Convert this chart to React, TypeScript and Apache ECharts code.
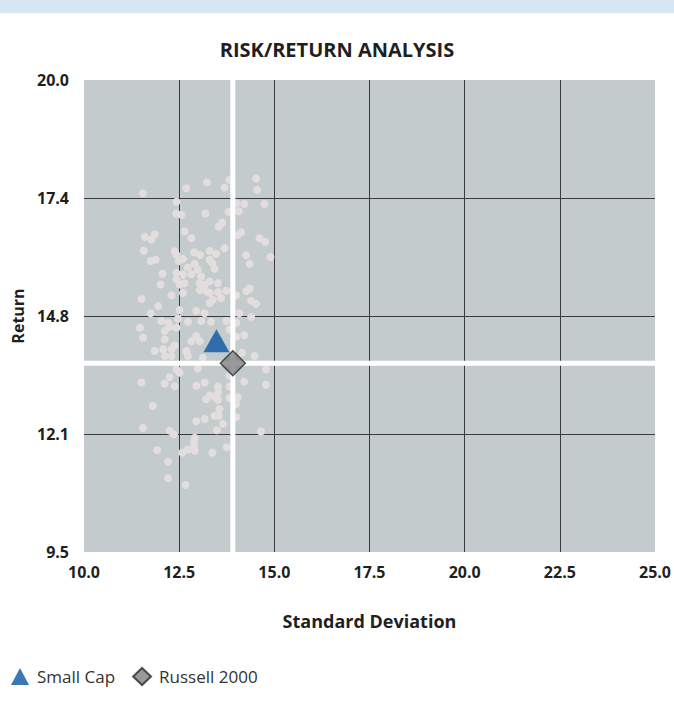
import React, { useEffect, useRef } from "react";
import * as echarts from "echarts";

const titleText = "RISK/RETURN ANALYSIS";
const xAxisName = "Standard Deviation";
const yAxisName = "Return";

const xTicks = [10, 12.5, 15, 17.5, 20, 22.5, 25];
const yTicks = [9.5, 12.125, 14.75, 17.375, 20.0];

const smallCap = [[13.48, 14.2]];
const russell2000 = [[13.91, 13.7]];

const peerFunds = [
  [11.55, 17.48], [12.69, 17.59], [13.23, 17.72], [13.69, 17.61], [13.82, 17.78],
  [14.52, 17.81], [14.55, 17.55], [12.43, 17.29], [14.0, 17.26], [14.21, 17.24],
  [14.74, 17.24], [12.43, 17.03], [12.56, 17.0], [13.19, 17.03], [13.8, 17.07],
  [14.07, 17.08], [13.63, 16.83], [13.54, 16.74], [12.64, 16.63], [14.13, 16.61],
  [14.04, 16.55], [11.6, 16.51], [11.86, 16.57], [12.82, 16.48], [14.61, 16.48],
  [11.77, 16.45], [14.76, 16.4], [11.57, 16.2], [12.38, 16.19], [12.43, 16.11],
  [12.89, 16.17], [13.05, 16.11], [13.3, 16.2], [13.47, 16.13], [13.69, 16.26],
  [14.26, 16.1], [11.75, 15.97], [11.88, 16.0], [12.49, 15.97], [12.6, 16.02],
  [13.3, 16.0], [13.37, 15.93], [12.91, 15.91], [14.35, 15.91], [14.9, 16.06],
  [12.73, 15.83], [12.99, 15.78], [13.43, 15.8], [12.06, 15.69], [12.43, 15.71],
  [12.6, 15.67], [12.82, 15.68], [13.08, 15.63], [12.43, 15.56], [12.01, 15.45],
  [12.51, 15.45], [12.64, 15.48], [13.04, 15.48], [13.17, 15.45], [13.3, 15.52],
  [13.52, 15.48], [13.04, 15.33], [13.21, 15.3], [12.6, 15.26], [13.3, 15.26],
  [13.52, 15.28], [13.74, 15.31], [14.26, 15.3], [14.35, 15.36], [12.3, 15.21],
  [11.51, 15.13], [13.38, 15.11], [13.6, 15.15], [13.3, 15.04], [14.0, 15.21],
  [14.39, 15.09], [14.52, 15.02], [11.95, 14.97], [11.75, 14.81], [12.51, 14.88],
  [12.95, 14.86], [13.17, 14.81], [14.08, 14.81], [14.39, 14.73], [12.03, 14.64],
  [12.21, 14.6], [12.25, 14.51], [12.47, 14.69], [12.73, 14.62], [13.08, 14.64],
  [13.34, 14.62], [13.74, 14.64], [14.0, 14.6], [11.47, 14.49], [12.12, 14.42],
  [12.43, 14.49], [13.82, 14.45], [11.55, 14.27], [12.12, 14.23], [12.82, 14.19],
  [12.95, 14.3], [13.04, 14.19], [14.0, 14.29], [14.21, 14.32], [11.86, 13.97],
  [12.08, 14.01], [12.3, 14.01], [12.38, 14.1], [12.69, 13.97], [13.12, 13.82],
  [12.12, 13.86], [12.3, 13.86], [12.73, 13.86], [14.15, 13.93], [14.48, 13.86],
  [12.43, 13.56], [12.51, 13.49], [14.78, 13.56], [12.99, 13.58], [13.95, 13.56],
  [14.21, 13.29], [11.51, 13.27], [12.38, 13.19], [12.12, 13.25], [12.95, 13.2],
  [13.17, 13.27], [13.52, 13.18], [12.25, 13.39], [13.52, 13.05], [13.82, 13.42],
  [13.82, 13.18], [14.78, 13.22], [13.21, 12.9], [13.3, 12.98], [13.43, 12.95],
  [13.82, 12.93], [14.04, 12.94], [11.81, 12.75], [13.52, 12.88], [14.0, 12.79],
  [13.56, 12.68], [13.43, 12.53], [13.54, 12.53], [13.17, 12.46], [12.95, 12.41],
  [14.0, 12.5], [13.65, 12.35], [11.55, 12.26], [12.25, 12.2], [12.36, 12.12],
  [13.49, 12.21], [14.65, 12.18], [12.91, 12.04], [11.92, 11.77], [12.21, 11.51],
  [12.58, 11.71], [12.73, 11.78], [12.89, 11.86], [12.91, 11.75], [12.89, 11.95],
  [13.37, 11.71], [13.75, 11.83], [12.21, 11.14], [12.67, 10.99],
];

const FONT = "'Open Sans', 'Noto Sans', sans-serif";

export default function App() {
  const ref = useRef<HTMLDivElement>(null);

  useEffect(() => {
    document.body.style.margin = "0";
    if (!ref.current) return;
    const chart = echarts.init(ref.current, null, { renderer: "svg" });
    const xMin = xTicks[0];
    const xMax = xTicks[xTicks.length - 1];
    const yMin = yTicks[0];
    const yMax = yTicks[yTicks.length - 1];

    chart.setOption({
      animation: false,
      backgroundColor: "#ffffff",
      graphic: [
        {
          type: "rect",
          left: 0,
          top: 0,
          shape: { width: 674, height: 13 },
          style: { fill: "#d8e5f3" },
          silent: true,
        },
      ],
      title: {
        text: titleText,
        left: "center",
        top: 34,
        textStyle: {
          fontFamily: FONT,
          fontWeight: "bold",
          fontSize: 20,
          color: "#1f1f1f",
        },
      },
      legend: {
        left: 11,
        top: 667,
        padding: 0,
        itemGap: 17,
        itemWidth: 18,
        itemHeight: 17,
        data: ["Small Cap", "Russell 2000"],
        textStyle: {
          fontFamily: FONT,
          fontSize: 17,
          color: "#333",
          padding: [0, 0, 0, 3],
        },
      },
      grid: {
        left: 84,
        right: 17,
        top: 80,
        bottom: 150,
        show: true,
        backgroundColor: "#c4cbcd",
        borderWidth: 0,
      },
      xAxis: {
        type: "value",
        min: xMin,
        max: xMax,
        interval: 2.5,
        name: xAxisName,
        nameLocation: "middle",
        nameGap: 60,
        nameTextStyle: {
          fontFamily: FONT,
          fontWeight: "bold",
          fontSize: 18,
          color: "#1f1f1f",
        },
        axisLine: { show: false },
        axisTick: { show: false },
        axisLabel: {
          margin: 12,
          fontFamily: FONT,
          fontWeight: "bold",
          fontSize: 16,
          color: "#1f1f1f",
          formatter: (v: number) => v.toFixed(1),
        },
        splitLine: {
          show: true,
          showMinLine: false,
          showMaxLine: false,
          lineStyle: { color: "#3a3a3a", width: 1 },
        },
      },
      yAxis: {
        type: "value",
        min: yMin,
        max: yMax,
        name: yAxisName,
        nameLocation: "middle",
        nameGap: 56,
        nameRotate: 90,
        nameTextStyle: {
          fontFamily: FONT,
          fontWeight: "bold",
          fontSize: 16,
          color: "#1f1f1f",
        },
        axisLine: { show: false },
        axisTick: { show: false, customValues: yTicks },
        axisLabel: {
          margin: 15,
          fontFamily: FONT,
          fontWeight: "bold",
          fontSize: 16,
          color: "#1f1f1f",
          customValues: yTicks,
          formatter: (v: number) => v.toFixed(1),
        },
        splitLine: { show: false },
      },
      series: [
        {
          name: "gridY",
          type: "custom",
          z: 1,
          silent: true,
          data: yTicks.slice(1, -1).map((v) => [xMin, v]),
          encode: { x: 0, y: 1 },
          renderItem: (params: any, api: any) => {
            const cs = params.coordSys;
            const y = Math.round(api.coord([api.value(0), api.value(1)])[1]) + 0.5;
            return {
              type: "line",
              shape: { x1: cs.x, y1: y, x2: cs.x + cs.width, y2: y },
              style: { stroke: "#3a3a3a", lineWidth: 1 },
            };
          },
        },
        {
          name: "Peers",
          type: "scatter",
          z: 2,
          silent: true,
          symbol: "circle",
          symbolSize: 8,
          itemStyle: { color: "#e3dedd", opacity: 1 },
          data: peerFunds,
        },
        {
          name: "crosshair",
          type: "custom",
          z: 3,
          silent: true,
          data: russell2000,
          encode: { x: 0, y: 1 },
          renderItem: (params: any, api: any) => {
            const cs = params.coordSys;
            const p = api.coord([api.value(0), api.value(1)]);
            return {
              type: "group",
              children: [
                {
                  type: "line",
                  shape: { x1: p[0], y1: cs.y, x2: p[0], y2: cs.y + cs.height },
                  style: { stroke: "#ffffff", lineWidth: 5 },
                },
                {
                  type: "line",
                  shape: { x1: cs.x, y1: p[1], x2: cs.x + cs.width, y2: p[1] },
                  style: { stroke: "#ffffff", lineWidth: 5 },
                },
              ],
            };
          },
        },
        {
          name: "Small Cap",
          type: "scatter",
          z: 4,
          symbol: "triangle",
          symbolSize: [26, 23],
          itemStyle: { color: "#0a55a3" },
          data: smallCap,
        },
        {
          name: "Russell 2000",
          type: "scatter",
          z: 5,
          symbol: "diamond",
          symbolSize: 25,
          itemStyle: { color: "#808082", borderColor: "#2a2a2a", borderWidth: 1.5 },
          data: russell2000,
        },
      ],
    });

    return () => {
      chart.dispose();
    };
  }, []);

  return <div ref={ref} style={{ width: 674, height: 702 }} />;
}
